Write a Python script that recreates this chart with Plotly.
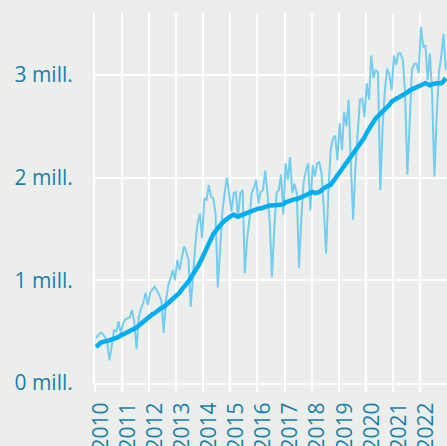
import plotly.graph_objects as go

years = list(range(2010, 2023))
year_labels = [str(y) for y in years]
y_ticks = [0, 1, 2, 3]
y_labels = ["0 mill.", "1 mill.", "2 mill.", "3 mill."]

# Monthly values (millions), Jan..Dec
monthly_2010 = [0.44, 0.47, 0.49, 0.48, 0.45, 0.40, 0.22, 0.36, 0.52, 0.50, 0.60, 0.48]
monthly_2011 = [0.58, 0.62, 0.63, 0.64, 0.71, 0.60, 0.33, 0.64, 0.73, 0.78, 0.88, 0.76]
monthly_2012 = [0.88, 0.91, 0.94, 0.90, 0.86, 0.80, 0.49, 0.80, 0.95, 1.02, 1.10, 1.00]
monthly_2013 = [1.20, 1.10, 1.20, 1.33, 1.28, 1.20, 0.74, 1.05, 1.35, 1.55, 1.65, 1.41]
monthly_2014 = [1.80, 1.78, 1.93, 1.81, 1.80, 1.65, 0.93, 1.30, 1.66, 1.85, 2.00, 1.85]
monthly_2015 = [1.67, 1.85, 1.86, 1.62, 1.85, 1.88, 1.07, 1.40, 1.59, 1.85, 1.90, 1.98]
monthly_2016 = [1.75, 1.86, 1.88, 2.07, 1.86, 1.56, 1.03, 1.50, 1.85, 1.88, 2.03, 1.64]
monthly_2017 = [2.14, 1.98, 2.20, 1.85, 1.94, 1.85, 1.12, 1.60, 1.96, 2.06, 2.14, 1.68]
monthly_2018 = [2.12, 2.01, 2.14, 2.15, 2.04, 1.69, 1.26, 1.85, 2.27, 2.38, 2.41, 2.17]
monthly_2019 = [2.53, 2.27, 2.64, 2.50, 2.76, 2.11, 1.59, 2.10, 2.50, 2.76, 2.77, 2.59]
monthly_2020 = [2.92, 2.76, 3.19, 2.97, 3.05, 3.02, 1.88, 2.50, 2.85, 3.06, 3.00, 2.85]
monthly_2021 = [3.19, 3.10, 3.21, 3.21, 3.15, 2.82, 2.03, 2.60, 3.05, 3.11, 3.11, 3.02]
monthly_2022 = [3.47, 3.27, 3.29, 2.95, 3.21, 2.80, 2.01, 2.60, 3.03, 3.18, 3.40, 3.05]

# Trend (millions), Jan..Dec
trend_2010 = [0.35, 0.38, 0.39, 0.40, 0.40, 0.41, 0.415, 0.42, 0.43, 0.44, 0.45, 0.46]
trend_2011 = [0.47, 0.48, 0.49, 0.50, 0.51, 0.53, 0.54, 0.56, 0.58, 0.60, 0.62, 0.64]
trend_2012 = [0.65, 0.67, 0.68, 0.70, 0.71, 0.73, 0.74, 0.76, 0.77, 0.79, 0.81, 0.84]
trend_2013 = [0.86, 0.88, 0.91, 0.93, 0.96, 0.99, 1.02, 1.06, 1.09, 1.13, 1.17, 1.22]
trend_2014 = [1.26, 1.31, 1.36, 1.41, 1.45, 1.48, 1.51, 1.53, 1.56, 1.58, 1.60, 1.62]
trend_2015 = [1.63, 1.64, 1.63, 1.62, 1.63, 1.64, 1.65, 1.66, 1.67, 1.68, 1.69, 1.69]
trend_2016 = [1.70, 1.70, 1.71, 1.72, 1.73, 1.73, 1.73, 1.73, 1.73, 1.73, 1.73, 1.74]
trend_2017 = [1.76, 1.77, 1.78, 1.78, 1.79, 1.79, 1.80, 1.81, 1.82, 1.84, 1.85, 1.86]
trend_2018 = [1.86, 1.85, 1.85, 1.86, 1.88, 1.90, 1.91, 1.92, 1.93, 1.96, 1.99, 2.03]
trend_2019 = [2.06, 2.09, 2.12, 2.15, 2.18, 2.21, 2.24, 2.26, 2.29, 2.32, 2.35, 2.39]
trend_2020 = [2.44, 2.48, 2.52, 2.56, 2.58, 2.60, 2.62, 2.64, 2.66, 2.69, 2.71, 2.74]
trend_2021 = [2.76, 2.77, 2.78, 2.79, 2.80, 2.81, 2.83, 2.85, 2.86, 2.87, 2.88, 2.88]
trend_2022 = [2.89, 2.91, 2.92, 2.91, 2.90, 2.91, 2.92, 2.92, 2.92, 2.92, 2.94, 2.97]

monthly = (monthly_2010 + monthly_2011 + monthly_2012 + monthly_2013 + monthly_2014 +
           monthly_2015 + monthly_2016 + monthly_2017 + monthly_2018 + monthly_2019 +
           monthly_2020 + monthly_2021 + monthly_2022)
trend = (trend_2010 + trend_2011 + trend_2012 + trend_2013 + trend_2014 +
         trend_2015 + trend_2016 + trend_2017 + trend_2018 + trend_2019 +
         trend_2020 + trend_2021 + trend_2022)

dates = [f"{y}-{m:02d}-15" for y in years for m in range(1, 13)]

BG = "#eceeeb"
TXT = "#1b7ea8"

fig = go.Figure()
fig.add_trace(go.Scatter(x=dates, y=monthly, mode="lines",
                         line=dict(color="#74cdef", width=2), showlegend=False))
fig.add_trace(go.Scatter(x=dates, y=trend, mode="lines",
                         line=dict(color="#00aeef", width=4.5), showlegend=False))

fig.update_layout(
    width=447, height=446,
    margin=dict(l=95, r=0, t=13, b=63, autoexpand=False),
    paper_bgcolor=BG, plot_bgcolor=BG,
    font=dict(family="Open Sans", color=TXT, size=21),
    xaxis=dict(
        range=["2010-01-01", "2023-01-01"],
        tickvals=[f"{y}-01-01" for y in years], ticktext=year_labels,
        tickangle=-90, showgrid=True, gridcolor="white", gridwidth=2,
        ticks="outside", ticklen=7, tickwidth=2, tickcolor="white",
        showline=True, linecolor="white", linewidth=2,
        zeroline=False, tickfont=dict(size=21, color=TXT),
        ticklabelstandoff=2, ticklabelshift=6, automargin=False,
    ),
    yaxis=dict(
        range=[0, 3.604],
        tickvals=y_ticks, ticktext=y_labels,
        showgrid=True, gridcolor="white", gridwidth=2,
        showline=True, linecolor="white", linewidth=2,
        zeroline=False, ticks="", tickfont=dict(size=21, color=TXT),
        ticklabelstandoff=16, automargin=False,
    ),
)

fig.write_html(
    "out.html",
    config={"displayModeBar": False},
    post_script="document.body.style.margin='0';document.body.style.background='" + BG + "';",
)
